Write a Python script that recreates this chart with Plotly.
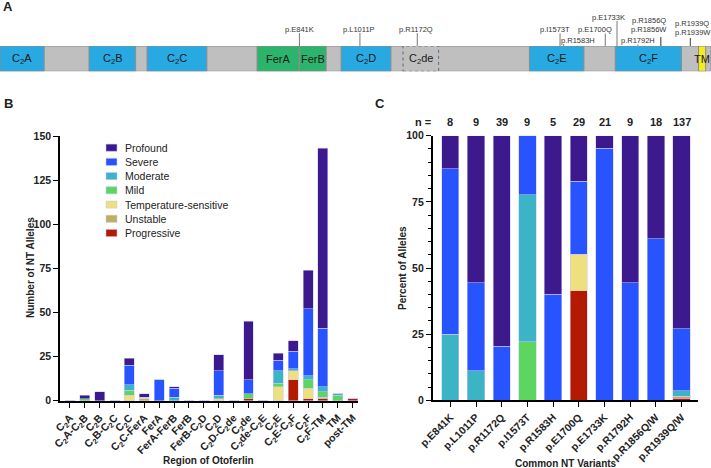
import plotly.graph_objects as go

W, H = 711, 468

# ---------------- DATA ----------------
# Panel A: otoferlin domain map (amino-acid positions)
protein_length = 1997
domain_names = ["C<sub>2</sub>A", "C<sub>2</sub>B", "C<sub>2</sub>C", "FerA", "FerB",
                "C<sub>2</sub>D", "C<sub>2</sub>de", "C<sub>2</sub>E", "C<sub>2</sub>F", "TM"]
domain_start = [1, 251, 414, 723, 842, 959, 1133, 1488, 1729, 1963]
domain_end = [124, 381, 581, 840, 916, 1098, 1232, 1640, 1914, 1982]
domain_kind = ["c2", "c2", "c2", "fer", "fer", "c2", "c2de", "c2", "c2", "tm"]

map_labels = ["p.E841K", "p.L1011P", "p.R1172Q", "p.I1573T", "p.R1583H", "p.E1700Q",
              "p.E1733K", "p.R1792H", "p.R1856Q", "p.R1856W", "p.R1939Q", "p.R1939W"]
map_pos = [841, 1011, 1172, 1573, 1583, 1700, 1733, 1792, 1856, 1856, 1939, 1939]

# Panel B: number of NT alleles per region
regions = ["C<sub>2</sub>A", "C<sub>2</sub>A-C<sub>2</sub>B", "C<sub>2</sub>B", "C<sub>2</sub>B-C<sub>2</sub>C",
           "C<sub>2</sub>C", "C<sub>2</sub>C-FerA", "FerA", "FerA-FerB", "FerB", "FerB-C<sub>2</sub>D",
           "C<sub>2</sub>D", "C<sub>2</sub>D-C<sub>2</sub>de", "C<sub>2</sub>de", "C<sub>2</sub>de-C<sub>2</sub>E",
           "C<sub>2</sub>E", "C<sub>2</sub>E-C<sub>2</sub>F", "C<sub>2</sub>F", "C<sub>2</sub>F-TM", "TM", "post-TM"]
severities = ["Progressive", "Unstable", "Temperature-sensitive", "Mild", "Moderate", "Severe", "Profound"]
colors = ["#B31A00", "#BDB05C", "#EEE07E", "#5CD65E", "#3BB5C6", "#2754FF", "#3C1A8E"]

region_progressive = [0, 0, 0, 0, 0, 0, 0, 0, 0, 0, 0, 0, 1, 0, 0, 12, 1, 1, 0, 1]
region_unstable = [0, 0, 0, 0, 0, 1, 0, 0, 0, 0, 0, 0, 0, 0, 0, 0, 0, 1, 0, 0]
region_temp = [0, 0, 0, 0, 3, 1, 0, 0, 0, 0, 1, 0, 0, 0, 8, 5, 6, 0, 0, 0]
region_mild = [0, 1, 0, 0, 3, 0, 0, 0, 0, 0, 0, 0, 3, 0, 2, 0, 5, 3, 3, 0]
region_moderate = [0, 0, 0, 0, 3, 0, 0, 2, 0, 0, 2, 0, 0, 0, 7, 1, 2, 3, 1, 0]
region_severe = [0, 0, 0, 0, 11, 0, 12, 5, 0, 0, 14, 0, 8, 0, 6, 10, 38, 33, 0, 0]
region_profound = [0, 2, 5, 0, 4, 2, 0, 1, 0, 0, 9, 0, 33, 0, 4, 6, 22, 102, 0, 0]

# Panel C: common NT variants (allele counts)
variants = ["p.E841K", "p.L1011P", "p.R1172Q", "p.I1573T", "p.R1583H",
            "p.E1700Q", "p.E1733K", "p.R1792H", "p.R1856Q/W", "p.R1939Q/W"]
variant_n = [8, 9, 39, 9, 5, 29, 21, 9, 18, 137]
var_progressive = [0, 0, 0, 0, 0, 12, 0, 0, 0, 1]
var_unstable = [0, 0, 0, 0, 0, 0, 0, 0, 0, 1]
var_temp = [0, 0, 0, 0, 0, 4, 0, 0, 0, 0]
var_mild = [0, 0, 0, 2, 0, 0, 0, 0, 0, 0]
var_moderate = [2, 1, 0, 5, 0, 0, 0, 0, 0, 3]
var_severe = [5, 3, 8, 2, 2, 8, 20, 4, 11, 32]
var_profound = [1, 5, 31, 0, 3, 5, 1, 5, 7, 100]

# ---------------- helpers ----------------
def px(x):
    return x / W


def py(y):
    return 1 - y / H


FONT = "Liberation Sans, Arial, Helvetica, sans-serif"
BAR_LINE = dict(color="rgba(205,200,250,0.9)", width=0.6)


def ann(x, y, text, size, bold=False, xref="paper", yref="paper", color="#222", **kw):
    f = dict(size=size, color=color, family=FONT)
    if bold:
        f["weight"] = "bold"
    d = dict(x=x, y=y, xref=xref, yref=yref, text=text, showarrow=False,
             xanchor="center", yanchor="middle", font=f)
    d.update(kw)
    return d


region_series = [region_progressive, region_unstable, region_temp, region_mild,
                 region_moderate, region_severe, region_profound]
variant_series = [var_progressive, var_unstable, var_temp, var_mild,
                  var_moderate, var_severe, var_profound]

fig = go.Figure()

for name, col, vals in zip(severities, colors, region_series):
    fig.add_trace(go.Bar(x=regions, y=vals, name=name, marker=dict(color=col, line=BAR_LINE),
                         width=0.67, xaxis="x", yaxis="y", showlegend=False))

for name, col, vals in zip(severities, colors, variant_series):
    pct = [v / n * 100 for v, n in zip(vals, variant_n)]
    fig.add_trace(go.Bar(x=variants, y=pct, name=name, marker=dict(color=col, line=BAR_LINE),
                         width=0.67, xaxis="x2", yaxis="y2", showlegend=False))

# invisible anchor trace for panel A axis
fig.add_trace(go.Scatter(x=map_pos, y=[1] * len(map_pos), mode="markers",
                         marker=dict(opacity=0), xaxis="x3", yaxis="y3",
                         showlegend=False, hoverinfo="skip"))

shapes = []
annotations = []

# ---- Panel A ----
shapes.append(dict(type="rect", xref="x3", yref="y3", x0=0, x1=protein_length, y0=0, y1=1,
                   fillcolor="#BFBFBF", line=dict(color="#8C8C8C", width=1), layer="below"))
fill_map = {"c2": "#29A9E1", "fer": "#2DB46C", "tm": "#F4EC1F", "c2de": "#BFBFBF"}
for nm, s, e, k in zip(domain_names, domain_start, domain_end, domain_kind):
    line = dict(color="#8C8C8C", width=1)
    if k == "c2de":
        line = dict(color="#666666", width=1, dash="dot")
    shapes.append(dict(type="rect", xref="x3", yref="y3", x0=s - 1, x1=e, y0=0, y1=1,
                       fillcolor=fill_map[k], line=line, layer="below"))
    annotations.append(ann((s + e) / 2, 0.5, nm, 11, xref="x3", yref="y3", color="#1a1a1a"))

# variant label layout (pixel placement)
label_cx = [299, 359, 416, 555, 578, 594.5, 608.7, 638, 649, 649, 691.5, 692.5]
label_cy = [29, 29, 29, 29, 40.5, 29, 17.7, 40.5, 20.3, 29, 23.3, 32.5]
line_top = [33, 33, 33, 33.5, 44, 33.5, 21, 44.5, 37, 37, 38, 38]
for lab, pos, cx, cy, lt in zip(map_labels, map_pos, label_cx, label_cy, line_top):
    shapes.append(dict(type="line", xref="x3", yref="paper", x0=pos, x1=pos,
                       y0=py(lt), y1=py(46), line=dict(color="#555555", width=0.8)))
    annotations.append(ann(px(cx), py(cy), lab, 7.5, color="#333333"))

# panel letters
for t, x, y in [("A", 8, 7), ("B", 8, 103), ("C", 380, 103)]:
    annotations.append(ann(px(x), py(y), t, 13, bold=True))

# ---- Panel B legend (manual) ----
leg_y = [147.7, 161.9, 176.1, 190.3, 204.6, 218.8, 233.0]
for name, col, yy in zip(severities[::-1], colors[::-1], leg_y):
    shapes.append(dict(type="rect", xref="paper", yref="paper", x0=px(106), x1=px(117),
                       y0=py(yy + 3.6), y1=py(yy - 3.6), fillcolor=col,
                       line=dict(color="rgba(205,200,250,0.9)", width=0.6)))
    annotations.append(ann(px(122.5), py(yy), name, 10.5, xanchor="left"))

# axis titles
annotations.append(ann(px(30), py(268), "Number of NT Alleles", 10, bold=True, textangle=-90))
annotations.append(ann(px(208), py(460), "Region of Otoferlin", 10, bold=True))
annotations.append(ann(px(402), py(268), "Percent of Alleles", 10, bold=True, textangle=-90))
annotations.append(ann(px(566), py(463), "Common NT Variants", 10, bold=True))

# n = row
annotations.append(ann(px(423), py(122.3), "n =", 11, bold=True))
for v, n in zip(variants, variant_n):
    annotations.append(ann(v, py(122.3), str(n), 11, bold=True, xref="x2"))

axis_common = dict(showline=True, linecolor="black", linewidth=1.6, ticks="outside",
                   tickcolor="black", tickwidth=1.4, ticklen=5, showgrid=False, zeroline=False,
                   automargin=False)


def tf(size):
    return dict(size=size, color="#222", family=FONT, weight="bold")


fig.update_layout(
    width=W, height=H, margin=dict(l=0, r=0, t=0, b=0, pad=0, autoexpand=False),
    paper_bgcolor="white", plot_bgcolor="white",
    barmode="stack",
    font=dict(family=FONT),
    xaxis=dict(domain=[px(60), px(358)], range=[-0.67, 19.36], anchor="y",
               tickangle=-45, tickfont=tf(10.5), **axis_common),
    yaxis=dict(domain=[py(400.7), py(136)], range=[0, 150], anchor="x",
               tickvals=[0, 25, 50, 75, 100, 125, 150], tickfont=tf(10.5), **axis_common),
    xaxis2=dict(domain=[px(432.7), px(698.3)], range=[-0.685, 9.65], anchor="y2",
                tickangle=-45, tickfont=tf(10.5), **axis_common),
    yaxis2=dict(domain=[py(400.3), py(135.7)], range=[0, 100], anchor="x2",
                tickvals=[0, 25, 50, 75, 100], tickfont=tf(10.5),
                minor=dict(dtick=5, ticks="outside", ticklen=3, tickcolor="black", tickwidth=1.2),
                **axis_common),
    xaxis3=dict(domain=[0, 1], range=[0, protein_length], anchor="y3", visible=False),
    yaxis3=dict(domain=[py(71.3), py(46)], range=[0, 1], anchor="x3", visible=False),
    shapes=shapes, annotations=annotations,
)

fig.write_html("out.html", config={"displayModeBar": False},
               post_script="document.body.style.margin='0';"
                           "document.documentElement.style.overflow='hidden';"
                           "document.body.style.overflow='hidden';")
